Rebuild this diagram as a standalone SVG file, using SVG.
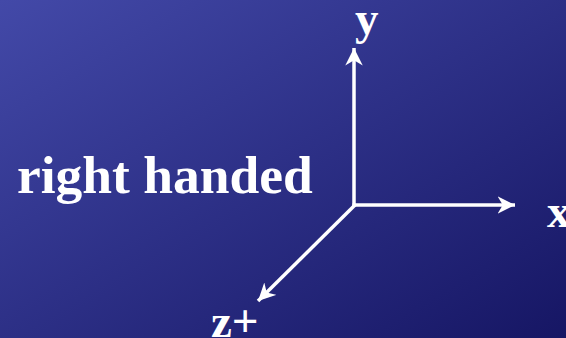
<svg xmlns="http://www.w3.org/2000/svg" width="566" height="338" viewBox="0 0 566 338">
<defs>
<linearGradient id="bg" x1="0" y1="0" x2="1" y2="1">
<stop offset="0" stop-color="#4349a8"/>
<stop offset="1" stop-color="#161664"/>
</linearGradient>
<marker id="ah" viewBox="0 0 10 10" refX="10" refY="5" markerWidth="5" markerHeight="5" orient="auto" markerUnits="strokeWidth">
<path d="M0,0 L10,5 L0,10 L3,5 Z" fill="#ffffff"/>
</marker>
<style>
.lbl{font-family:"Liberation Serif","Times New Roman",serif;font-weight:bold;fill:#ffffff}
.ax{stroke:#ffffff;stroke-width:3.5;fill:none}
</style>
</defs>
<rect width="566" height="338" fill="url(#bg)"/>
<g id="connectors">
<line class="ax" x1="354" y1="206" x2="354" y2="48" marker-end="url(#ah)"/>
<line class="ax" x1="352.5" y1="205" x2="515" y2="205" marker-end="url(#ah)"/>
<line class="ax" x1="355" y1="205" x2="258" y2="301" marker-end="url(#ah)"/>
</g>
<g id="title"><text class="lbl" x="17" y="193" font-size="53.5">right handed</text></g>
<g id="y"><text class="lbl" x="355" y="34" font-size="47">y</text></g>
<g id="x"><text class="lbl" x="547" y="227" font-size="47">x</text></g>
<g id="z"><text class="lbl" x="211" y="337" font-size="47">z+</text></g>
</svg>
